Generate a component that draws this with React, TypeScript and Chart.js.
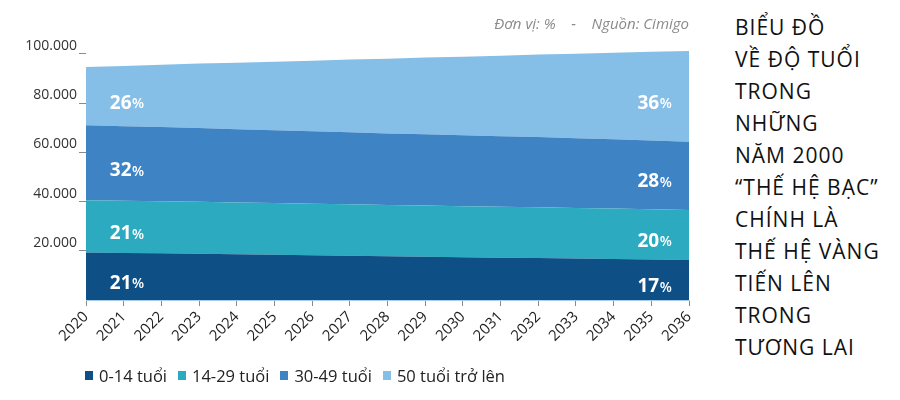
import { useEffect, useRef } from "react";
import { Chart, registerables } from "chart.js";

Chart.register(...registerables);

const years = [
  "2020", "2021", "2022", "2023", "2024", "2025", "2026", "2027", "2028",
  "2029", "2030", "2031", "2032", "2033", "2034", "2035", "2036",
];
const age0to14 = [19300, 19100, 19000, 18800, 18600, 18400, 18200, 18000, 17800, 17600, 17400, 17200, 17100, 16900, 16700, 16500, 16300];
const age14to29 = [21200, 21200, 21100, 21100, 21000, 21000, 20900, 20900, 20800, 20800, 20700, 20700, 20600, 20500, 20500, 20400, 20300];
const age30to49 = [30500, 30300, 30200, 30000, 29800, 29600, 29500, 29300, 29100, 29000, 28800, 28600, 28500, 28300, 28100, 27900, 27700];
const age50plus = [23700, 24500, 25300, 26200, 27000, 27800, 28600, 29500, 30300, 31100, 31900, 32800, 33600, 34400, 35200, 36100, 36900];

const seriesNames = ["0-14 tuổi", "14-29 tuổi", "30-49 tuổi", "50 tuổi trở lên"];
const seriesColors = ["#0e4f86", "#2caac0", "#3e83c4", "#85bfe8"];
const yTicks = [20000, 40000, 60000, 80000, 100000];

// share labels shown in 2021 and 2035
const startPct = [21, 21, 32, 26];
const endPct = [17, 20, 28, 36];

const titleLines = [
  "BIỂU ĐỒ", "VỀ ĐỘ TUỔI", "TRONG", "NHỮNG", "NĂM 2000", "“THẾ HỆ BẠC”",
  "CHÍNH LÀ", "THẾ HỆ VÀNG", "TIẾN LÊN", "TRONG", "TƯƠNG LAI",
];

const FONT = "'Open Sans', sans-serif";

const fmt = (v: number) => String(v).replace(/\B(?=(\d{3})+(?!\d))/g, ".");

const pctLabels = {
  id: "pctLabels",
  afterDatasetsDraw(chart: any) {
    const { ctx } = chart;
    const xs = chart.scales.x;
    const ys = chart.scales.y;
    const groups: [number, number[]][] = [[1, startPct], [15, endPct]];
    ctx.save();
    ctx.fillStyle = "#ffffff";
    ctx.textBaseline = "middle";
    ctx.textAlign = "left";
    groups.forEach(([idx, pcts]) => {
      let base = 0;
      chart.data.datasets.forEach((ds: any, i: number) => {
        const v = ds.data[idx];
        const y = ys.getPixelForValue(base + v / 2) + 7;
        base += v;
        const cx = xs.getPixelForValue(idx) + 3;
        const num = String(pcts[i]);
        ctx.font = `700 19px ${FONT}`;
        const w1 = ctx.measureText(num).width;
        ctx.font = `600 14px ${FONT}`;
        const w2 = ctx.measureText("%").width;
        const x0 = cx - (w1 + w2) / 2;
        ctx.font = `700 19px ${FONT}`;
        ctx.fillText(num, x0, y);
        ctx.font = `600 14px ${FONT}`;
        ctx.fillText("%", x0 + w1 + 0.5, y + 1);
      });
    });
    ctx.restore();
  },
};

export default function App() {
  const canvasRef = useRef<HTMLCanvasElement>(null);

  useEffect(() => {
    if (!canvasRef.current) return;
    document.body.style.margin = "0";

    const series = [age0to14, age14to29, age30to49, age50plus];
    const chart = new Chart(canvasRef.current, {
      type: "line",
      data: {
        labels: years,
        datasets: series.map((data, i) => ({
          label: seriesNames[i],
          data,
          backgroundColor: seriesColors[i],
          borderColor: seriesColors[i],
          borderWidth: 0,
          pointRadius: 0,
          tension: 0,
          fill: i === 0 ? "origin" : "-1",
        })),
      },
      options: {
        animation: false,
        responsive: true,
        maintainAspectRatio: false,
        layout: { padding: { left: 0, right: 31, top: 48, bottom: 0 } },
        plugins: { legend: { display: false }, tooltip: { enabled: false } },
        scales: {
          x: {
            grid: { drawOnChartArea: false, tickLength: 6, color: "#8a8a8a" },
            border: { color: "#a9cce8" },
            ticks: {
              autoSkip: false,
              minRotation: 45,
              maxRotation: 45,
              padding: 2,
              color: "#222",
              font: { family: FONT, size: 15 },
            },
            afterFit: (axis: any) => { axis.height = 100; },
          },
          y: {
            stacked: true,
            min: 0,
            max: 102400,
            grid: { drawOnChartArea: false, tickLength: 7, color: "#8a8a8a" },
            border: { display: false },
            afterBuildTicks: (axis: any) => {
              axis.ticks = yTicks.map((value) => ({ value }));
            },
            ticks: {
              padding: 2,
              labelOffset: -8,
              color: "#333",
              font: { family: FONT, size: 14 },
              callback: (v: any) => fmt(Number(v)),
            },
            afterFit: (axis: any) => { axis.width = 86; },
          },
        },
      },
      plugins: [pctLabels],
    });

    return () => chart.destroy();
  }, []);

  return (
    <div style={{ position: "absolute", left: 0, top: 0, width: 900, height: 400, background: "#fff", fontFamily: FONT }}>
      <div style={{ position: "absolute", left: 0, top: 0, width: 720, height: 400 }}>
        <canvas ref={canvasRef} />
      </div>
      <div style={{ position: "absolute", left: 0, top: 13, width: 689, textAlign: "right", fontSize: 15, fontStyle: "italic", color: "#8a8a8a", whiteSpace: "pre" }}>
        {"Đơn vị: %    -    Nguồn: Cimigo"}
      </div>
      <div style={{ position: "absolute", left: 735, top: 11, fontSize: 21, fontWeight: 500, letterSpacing: 1, lineHeight: "32px", color: "#111" }}>
        {titleLines.map((t, i) => (
          <div key={i}>{t}</div>
        ))}
      </div>
      <div style={{ position: "absolute", left: 85, top: 364, display: "flex", alignItems: "center", fontSize: 16.5, color: "#222" }}>
        {seriesNames.map((n, i) => (
          <div key={n} style={{ display: "flex", alignItems: "center", marginRight: 11 }}>
            <span style={{ display: "inline-block", width: 8, height: 9, background: seriesColors[i], marginRight: 6 }} />
            <span>{n}</span>
          </div>
        ))}
      </div>
    </div>
  );
}
